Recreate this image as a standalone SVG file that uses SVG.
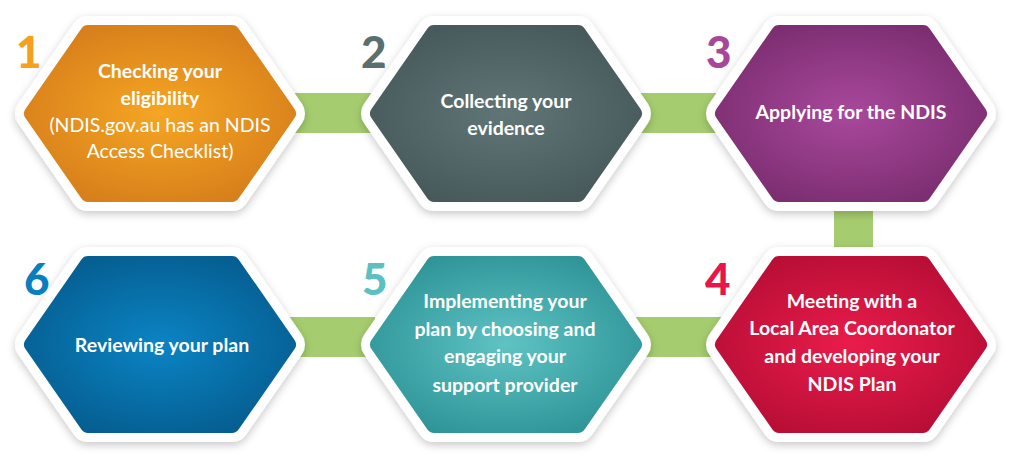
<svg xmlns="http://www.w3.org/2000/svg" width="1016" height="465" viewBox="0 0 1016 465">
<defs>
<filter id="sh" x="-20%" y="-20%" width="140%" height="150%">
<feDropShadow dx="0" dy="3" stdDeviation="4" flood-color="#000" flood-opacity="0.22"/>
</filter>
<radialGradient id="g1" cx="0.5" cy="0.5" r="0.6"><stop offset="0" stop-color="#f5a623"/><stop offset="1" stop-color="#d77f1b"/></radialGradient>
<radialGradient id="g2" cx="0.5" cy="0.5" r="0.6"><stop offset="0" stop-color="#607676"/><stop offset="1" stop-color="#47595b"/></radialGradient>
<radialGradient id="g3" cx="0.5" cy="0.5" r="0.6"><stop offset="0" stop-color="#a9489c"/><stop offset="1" stop-color="#7c2e71"/></radialGradient>
<radialGradient id="g4" cx="0.5" cy="0.5" r="0.6"><stop offset="0" stop-color="#ea1c4b"/><stop offset="1" stop-color="#b80e36"/></radialGradient>
<radialGradient id="g5" cx="0.5" cy="0.5" r="0.6"><stop offset="0" stop-color="#5fc3c4"/><stop offset="1" stop-color="#2f9598"/></radialGradient>
<radialGradient id="g6" cx="0.5" cy="0.5" r="0.6"><stop offset="0" stop-color="#0b84c4"/><stop offset="1" stop-color="#055e91"/></radialGradient>
<polygon id="hex" points="-128,0 -72,-80.5 72,-80.5 128,0 72,80.5 -72,80.5"/>
</defs>
<style>
.bar{fill:#a5cd6f}
.outer{fill:#fff;stroke:#fff;stroke-width:34;stroke-linejoin:round}
.inner{stroke-width:16;stroke-linejoin:round}
.t{font-family:Lato,"Open Sans","Liberation Sans",sans-serif;font-size:19.5px;fill:#fff;text-anchor:middle;font-weight:bold}
.r{font-weight:normal}
.num{font-family:Lato,"Liberation Sans",sans-serif;font-size:44px;font-weight:900}
</style>
<rect width="1016" height="465" fill="#fff"/>
<g id="connectors">
<rect class="bar" x="285" y="93" width="90" height="40"/>
<rect class="bar" x="630" y="93" width="95" height="40"/>
<rect class="bar" x="834" y="195" width="39" height="70"/>
<rect class="bar" x="285" y="317" width="90" height="40"/>
<rect class="bar" x="630" y="317" width="95" height="40"/>
</g>
<g id="node1">
<g transform="translate(160,113.5)"><use href="#hex" class="outer" filter="url(#sh)"/><use href="#hex" class="inner" fill="url(#g1)" stroke="url(#g1)"/></g>
<text class="num" x="16" y="68" fill="#f5a01e">1</text>
<text class="t" x="160" y="78">Checking your</text>
<text class="t" x="160" y="105">eligibility</text>
<text class="t r" x="160" y="132">(NDIS.gov.au has an NDIS</text>
<text class="t r" x="160" y="158">Access Checklist)</text>
</g>
<g id="node2">
<g transform="translate(506,113.5)"><use href="#hex" class="outer" filter="url(#sh)"/><use href="#hex" class="inner" fill="url(#g2)" stroke="url(#g2)"/></g>
<text class="num" x="361" y="68" fill="#5a7070">2</text>
<text class="t" x="506" y="108">Collecting your</text>
<text class="t" x="506" y="135">evidence</text>
</g>
<g id="node3">
<g transform="translate(851,113.5)"><use href="#hex" class="outer" filter="url(#sh)"/><use href="#hex" class="inner" fill="url(#g3)" stroke="url(#g3)"/></g>
<text class="num" x="706" y="68" fill="#a6479a">3</text>
<text class="t" x="851" y="119">Applying for the NDIS</text>
</g>
<g id="node4">
<g transform="translate(851,344.5)"><use href="#hex" class="outer" filter="url(#sh)"/><use href="#hex" class="inner" fill="url(#g4)" stroke="url(#g4)"/></g>
<text class="num" x="705" y="295" fill="#e5174a">4</text>
<text class="t" x="852" y="308">Meeting with a</text>
<text class="t" x="852" y="335">Local Area Coordonator</text>
<text class="t" x="852" y="363">and developing your</text>
<text class="t" x="852" y="391">NDIS Plan</text>
</g>
<g id="node5">
<g transform="translate(506,344.5)"><use href="#hex" class="outer" filter="url(#sh)"/><use href="#hex" class="inner" fill="url(#g5)" stroke="url(#g5)"/></g>
<text class="num" x="362" y="295" fill="#5cc0c3">5</text>
<text class="t" x="505" y="308">Implementing your</text>
<text class="t" x="505" y="336">plan by choosing and</text>
<text class="t" x="505" y="363">engaging your</text>
<text class="t" x="505" y="392">support provider</text>
</g>
<g id="node6">
<g transform="translate(160,344.5)"><use href="#hex" class="outer" filter="url(#sh)"/><use href="#hex" class="inner" fill="url(#g6)" stroke="url(#g6)"/></g>
<text class="num" x="24" y="295" fill="#0a7fc0">6</text>
<text class="t" x="162" y="352">Reviewing your plan</text>
</g>
</svg>
